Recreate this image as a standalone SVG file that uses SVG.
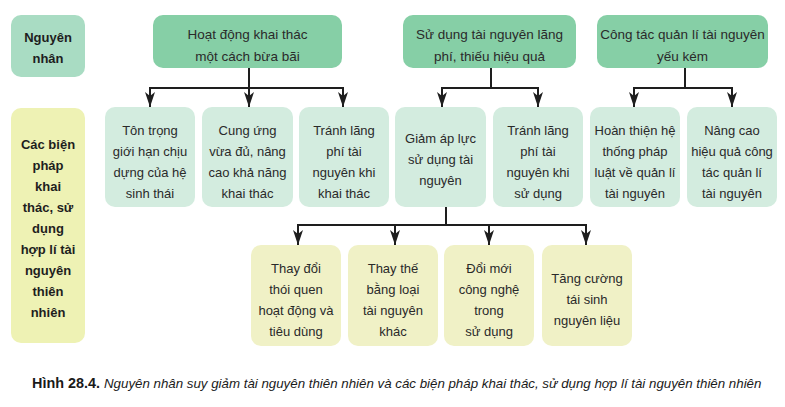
<svg xmlns="http://www.w3.org/2000/svg" width="785" height="407" viewBox="0 0 785 407">
<defs>
<style>
.t{font-family:"Liberation Sans",Arial,sans-serif;font-size:13px;fill:#2a2a2a;text-anchor:middle}
.h{font-size:13.5px}
.b{font-weight:bold;fill:#1e1e1e}
.g1{fill:#86cfa6}
.g0{fill:#a9dcc3}
.g2{fill:#d3ecdf}
.y0{fill:#eef2b4}
.y1{fill:#f0f1c6}
.c{fill:none;stroke:#1e1e1e;stroke-width:2}
.a{fill:none;stroke:#1e1e1e;stroke-width:2;marker-end:url(#ah)}
.cap{font-family:"Liberation Sans",Arial,sans-serif;fill:#1a1a1a}
</style>
<marker id="ah" viewBox="-1 -6 17 12" markerUnits="userSpaceOnUse" markerWidth="17" markerHeight="12" refX="15" refY="0" orient="auto">
<path d="M0,-5 L15,0 L0,5 L4,0 Z" fill="#1e1e1e"/>
</marker>
</defs>
<rect width="785" height="407" fill="#ffffff"/>

<g id="label-nguyen-nhan">
<rect x="11" y="15" width="74" height="62" rx="10" class="g0"/>
<text class="t b" x="48" y="42">Nguyên</text>
<text class="t b" x="48" y="63">nhân</text>
</g>

<g id="label-bien-phap">
<rect x="11" y="108" width="74" height="235" rx="10" class="y0"/>
<text class="t b" x="48" y="149">Các biện</text>
<text class="t b" x="48" y="170">pháp</text>
<text class="t b" x="48" y="191">khai</text>
<text class="t b" x="48" y="212">thác, sử</text>
<text class="t b" x="48" y="233">dụng</text>
<text class="t b" x="48" y="254">hợp lí tài</text>
<text class="t b" x="48" y="275">nguyên</text>
<text class="t b" x="48" y="296">thiên</text>
<text class="t b" x="48" y="317">nhiên</text>
</g>

<g id="cause-1">
<rect x="153" y="15" width="189" height="53" rx="10" class="g1"/>
<text class="t h" x="247.5" y="39">Hoạt động khai thác</text>
<text class="t h" x="247.5" y="61">một cách bừa bãi</text>
</g>
<g id="cause-2">
<rect x="403" y="15" width="173" height="53" rx="10" class="g1"/>
<text class="t h" x="489.5" y="39">Sử dụng tài nguyên lãng</text>
<text class="t h" x="489.5" y="61">phí, thiếu hiệu quả</text>
</g>
<g id="cause-3">
<rect x="597" y="15" width="171" height="53" rx="10" class="g1"/>
<text class="t h" x="682.5" y="39">Công tác quản lí tài nguyên</text>
<text class="t h" x="682.5" y="61">yếu kém</text>
</g>

<g id="m1">
<rect x="105" y="107" width="90" height="100" rx="10" class="g2"/>
<text class="t" x="150" y="135">Tôn trọng</text>
<text class="t" x="150" y="156">giới hạn chịu</text>
<text class="t" x="150" y="177">dựng của hệ</text>
<text class="t" x="150" y="198">sinh thái</text>
</g>
<g id="m2">
<rect x="202" y="107" width="91" height="100" rx="10" class="g2"/>
<text class="t" x="247.5" y="135">Cung ứng</text>
<text class="t" x="247.5" y="156">vừa đủ, nâng</text>
<text class="t" x="247.5" y="177">cao khả năng</text>
<text class="t" x="247.5" y="198">khai thác</text>
</g>
<g id="m3">
<rect x="299" y="107" width="90" height="100" rx="10" class="g2"/>
<text class="t" x="344" y="135">Tránh lãng</text>
<text class="t" x="344" y="156">phí tài</text>
<text class="t" x="344" y="177">nguyên khi</text>
<text class="t" x="344" y="198">khai thác</text>
</g>
<g id="m4">
<rect x="395" y="107" width="91" height="100" rx="10" class="g2"/>
<text class="t" x="440.5" y="143">Giảm áp lực</text>
<text class="t" x="440.5" y="164">sử dụng tài</text>
<text class="t" x="440.5" y="185">nguyên</text>
</g>
<g id="m5">
<rect x="493" y="107" width="90" height="100" rx="10" class="g2"/>
<text class="t" x="538" y="135">Tránh lãng</text>
<text class="t" x="538" y="156">phí tài</text>
<text class="t" x="538" y="177">nguyên khi</text>
<text class="t" x="538" y="198">sử dụng</text>
</g>
<g id="m6">
<rect x="590" y="107" width="90" height="100" rx="10" class="g2"/>
<text class="t" x="635" y="135">Hoàn thiện hệ</text>
<text class="t" x="635" y="156">thống pháp</text>
<text class="t" x="635" y="177">luật về quản lí</text>
<text class="t" x="635" y="198">tài nguyên</text>
</g>
<g id="m7">
<rect x="687" y="107" width="90" height="100" rx="10" class="g2"/>
<text class="t" x="732" y="135">Nâng cao</text>
<text class="t" x="732" y="156">hiệu quả công</text>
<text class="t" x="732" y="177">tác quản lí</text>
<text class="t" x="732" y="198">tài nguyên</text>
</g>

<g id="s1">
<rect x="251" y="245" width="90" height="101" rx="10" class="y1"/>
<text class="t" x="296" y="273">Thay đổi</text>
<text class="t" x="296" y="294">thói quen</text>
<text class="t" x="296" y="315">hoạt động và</text>
<text class="t" x="296" y="336">tiêu dùng</text>
</g>
<g id="s2">
<rect x="348" y="245" width="90" height="101" rx="10" class="y1"/>
<text class="t" x="393" y="273">Thay thế</text>
<text class="t" x="393" y="294">bằng loại</text>
<text class="t" x="393" y="315">tài nguyên</text>
<text class="t" x="393" y="336">khác</text>
</g>
<g id="s3">
<rect x="444" y="245" width="90" height="101" rx="10" class="y1"/>
<text class="t" x="489" y="273">Đổi mới</text>
<text class="t" x="489" y="294">công nghệ</text>
<text class="t" x="489" y="315">trong</text>
<text class="t" x="489" y="336">sử dụng</text>
</g>
<g id="s4">
<rect x="542" y="245" width="90" height="101" rx="10" class="y1"/>
<text class="t" x="587" y="283">Tăng cường</text>
<text class="t" x="587" y="304">tái sinh</text>
<text class="t" x="587" y="325">nguyên liệu</text>
</g>

<g id="connectors">
<path class="c" d="M249,68 V88 M149,88 H344"/>
<path class="a" d="M150,88 V107"/>
<path class="a" d="M249,88 V107"/>
<path class="a" d="M343,88 V107"/>
<path class="c" d="M491,68 V88 M441,88 H539"/>
<path class="a" d="M442,88 V107"/>
<path class="a" d="M538,88 V107"/>
<path class="c" d="M685,68 V88 M633,88 H733"/>
<path class="a" d="M634,88 V107"/>
<path class="a" d="M732,88 V107"/>
<path class="c" d="M446,207 V225 M297,225 H587"/>
<path class="a" d="M298,225 V245"/>
<path class="a" d="M395,225 V245"/>
<path class="a" d="M489,225 V245"/>
<path class="a" d="M586,225 V245"/>
</g>

<g id="caption">
<text class="cap" x="32" y="388" font-size="14.4" font-weight="bold">Hình 28.4.</text>
<text class="cap" x="104" y="388" font-size="13.3" font-style="italic">Nguyên nhân suy giảm tài nguyên thiên nhiên và các biện pháp khai thác, sử dụng hợp lí tài nguyên thiên nhiên</text>
</g>
</svg>
